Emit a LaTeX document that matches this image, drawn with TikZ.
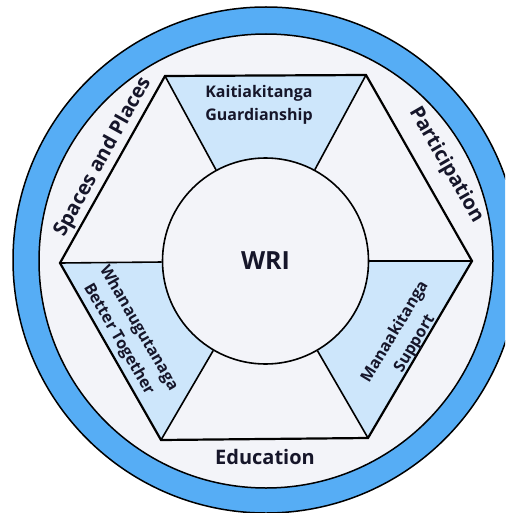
\documentclass[tikz,border=0pt]{standalone}
\usepackage{fontspec}
\setmainfont{Open Sans}
\usepackage{tikz}

\definecolor{ringblue}{HTML}{56ADF5}
\definecolor{paleblue}{HTML}{CDE6FB}
\definecolor{bgwhite}{HTML}{F3F4F9}
\definecolor{inkdark}{HTML}{16162A}

\begin{document}
\begin{tikzpicture}[x=1pt,y=-1pt,
  edgelabel/.style={font=\fontsize{20}{24}\selectfont\bfseries,text=inkdark},
  valuelabel/.style={font=\fontsize{16}{23}\selectfont\bfseries,text=inkdark,align=center},
  spoke/.style={line width=1.6pt},
  part/.style={fill=paleblue}]

  \useasboundingbox (0,0) rectangle (505,513);
  \fill[white] (0,0) rectangle (505,513);
  \clip (0,0) rectangle (505,513);

  % RING
  \draw[fill=ringblue,line width=1.5pt] (266,260) circle (253pt);
  \draw[fill=bgwhite,line width=1.5pt] (266,261) circle (227pt);

  % HEXAGON CORNERS
  \coordinate (TopL) at (165,76);
  \coordinate (TopR) at (366,75);
  \coordinate (Rgt) at (472,261);
  \coordinate (BotR) at (368,438);
  \coordinate (BotL) at (161,440);
  \coordinate (Lft) at (60,263);
  \coordinate (Mid) at (265.5,261);

  % THE BLUE PARTS
  \fill[part] (TopL) -- (TopR) -- (Mid) -- cycle;
  \fill[part] (Rgt) -- (BotR) -- (Mid) -- cycle;
  \fill[part] (BotL) -- (Lft) -- (Mid) -- cycle;

  % CENTRE
  \node[circle,draw,fill=bgwhite,line width=1.6pt,minimum size=206pt,inner sep=0pt,
        font=\fontsize{25}{30}\selectfont\bfseries,text=inkdark] (WRI) at (Mid) {WRI};

  % SPOKES
  \foreach \c in {TopL,TopR,Rgt,BotR,BotL,Lft}
    \draw[spoke] (\c) -- (WRI);

  \draw[line width=2.2pt,line join=miter] (TopL) -- (TopR) -- (Rgt) -- (BotR)
    -- (BotL) -- (Lft) -- cycle;

  % VALUES
  \node[valuelabel] (Kaitiaki) at (259,105) {Kaitiakitanga\\Guardianship};
  \node[valuelabel,rotate=59] (Manaaki) at (405,338) {Manaakitanga\\Support};
  \node[valuelabel,rotate=-60] (Whanau) at (128.5,334) {Whanaugutanaga\\Better Together};

  % EDGES
  \node[edgelabel,rotate=61] (Spaces) at (103,157) {Spaces and Places};
  \node[edgelabel,rotate=-60] (Particip) at (446,165) {Participation};
  \node[edgelabel] (Educ) at (265,457) {Education};
\end{tikzpicture}
\end{document}
